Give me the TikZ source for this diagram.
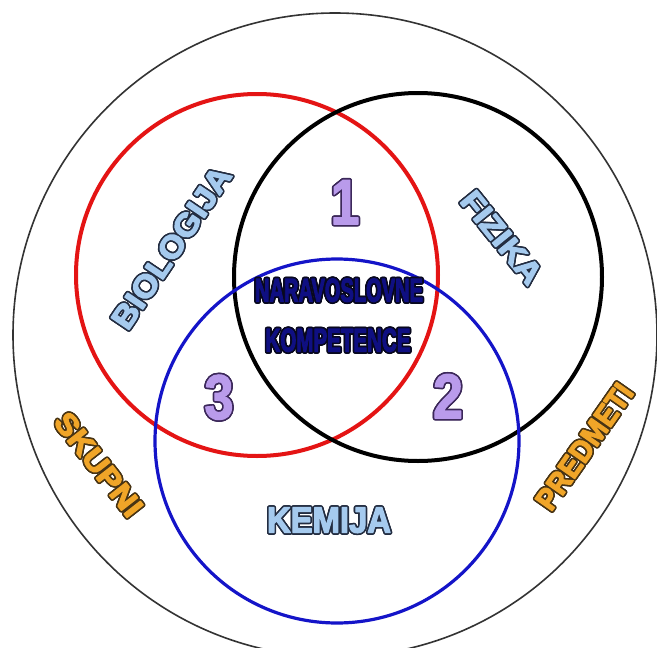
\documentclass[tikz,border=0pt]{standalone}
\usepackage{fontspec}
\setmainfont{Liberation Sans}
\usepackage{graphicx}
\usepackage[copies]{contour}
\definecolor{lblue}{RGB}{165,202,238}
\definecolor{lblueline}{RGB}{35,45,65}
\definecolor{lorange}{RGB}{240,165,40}
\definecolor{lorangeline}{RGB}{72,52,20}
\definecolor{lav}{RGB}{185,155,235}
\definecolor{lavline}{RGB}{60,40,90}
\definecolor{navyfill}{RGB}{15,15,130}
\definecolor{navyline}{RGB}{8,8,30}
\definecolor{cred}{RGB}{228,20,20}
\definecolor{cblue}{RGB}{20,20,200}
\contourlength{1.6pt}
% #1 outline colour, #2 fill colour, #3 width, #4 height, #5 font size, #6 text
\newcommand\olabel[6]{\textcolor{#2}{\contour{#1}{\resizebox{#3pt}{#4pt}{\fontsize{#5}{#5}\selectfont\bfseries
  \special{pdf:literal direct 2 Tr 1.2 w 1 j}#6\special{pdf:literal direct 0 Tr}}}}}
\tikzset{
  lbl/.style={inner sep=0pt, outer sep=0pt},
  ring/.style={line width=4pt},
}
\begin{document}
\begin{tikzpicture}[x=1pt,y=-1pt]
\useasboundingbox (0,0) rectangle (657,648);
\fill[white] (0,0) rectangle (657,648);
\begin{scope}
\clip (0,0) rectangle (657,648);
\draw[line width=1.6pt, black!80] (335,335) circle[radius=322pt];
\end{scope}
\draw[ring, cred] (257,275) circle[radius=181pt];
\draw[ring, black] (418,277) circle[radius=184pt];
\draw[line width=3.2pt, cblue] (337,441) circle[radius=182pt];
% labels
\node[lbl, rotate=56] (bio) at (172,248) {\olabel{lblueline}{lblue}{188}{22}{31}{BIOLOGIJA}};
\node[lbl, rotate=-51] (fiz) at (501,238) {\olabel{lblueline}{lblue}{110}{21}{31}{FIZIKA}};
\node[lbl] (kem) at (329,521) {\olabel{lblueline}{lblue}{124}{25}{34}{KEMIJA}};
\node[lbl, rotate=-52] (sku) at (98,465) {\olabel{lorangeline}{lorange}{123}{21}{31}{SKUPNI}};
\node[lbl, rotate=55] (pre) at (585,447) {\olabel{lorangeline}{lorange}{146}{21}{31}{PREDMETI}};
\node[lbl] (nar) at (339,291) {\olabel{navyline}{navyfill}{168}{23}{33}{NARAVOSLOVNE}};
\node[lbl] (kom) at (338,341) {\olabel{navyline}{navyfill}{145}{23}{33}{KOMPETENCE}};
\node[lbl] (n1) at (345,203) {\olabel{lavline}{lav}{29}{44}{60}{1}};
\node[lbl] (n2) at (448,397) {\olabel{lavline}{lav}{30}{44}{60}{2}};
\node[lbl] (n3) at (219,398) {\olabel{lavline}{lav}{29}{44}{60}{3}};
\end{tikzpicture}
\end{document}
